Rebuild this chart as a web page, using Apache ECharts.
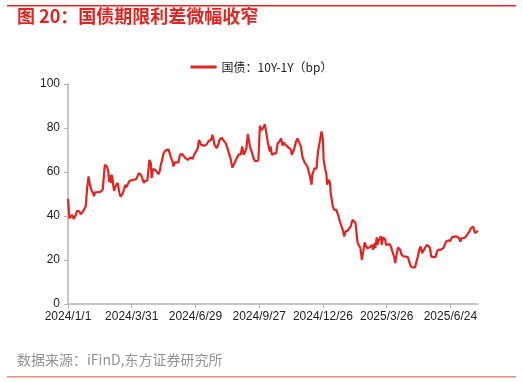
<!DOCTYPE html>
<html>
<head>
<meta charset="utf-8">
<script src="https://cdn.jsdelivr.net/npm/echarts@6/dist/echarts.min.js"></script>
<style>html,body{margin:0;padding:0;background:#fff}#c{width:523px;height:382px}</style>
</head>
<body>
<div id="c"></div>
<script>
// days since 2024-01-01
const dayIndex = [0,2,4,6,8,11,13,16,18,21,23,25,27,29,31,33,35,37,38,41,46,49,52,55,57,58,59,61,62,64,65,67,70,72,73,74,77,79,81,82,84,87,89,92,96,98,100,103,105,107,109,112,114,115,117,118,120,123,125,128,130,131,133,135,137,139,142,144,145,148,149,151,153,156,158,161,163,165,169,171,173,176,178,180,183,185,188,190,192,195,197,199,202,204,205,207,210,212,214,217,219,221,223,225,228,230,232,235,237,239,241,244,246,248,250,252,254,255,257,259,262,264,268,269,271,273,276,278,280,282,283,285,286,288,291,294,296,299,301,303,305,307,312,315,316,319,322,324,327,329,331,334,336,338,341,343,344,345,348,350,351,353,356,358,360,361,363,365,366,368,370,371,374,376,379,382,384,386,388,390,392,395,397,399,402,404,406,409,411,413,415,417,419,422,424,426,429,431,433,434,436,437,439,442,443,445,448,449,451,454,456,458,461,462,464,466,469,471,474,477,480,482,484,487,490,491,494,496,498,500,502,504,507,509,511,513,516,519,521,524,527,530,532,534,537,540,542,546,549,552,554,556,558,560,563,565,567,569,572,574,575,577,579];
const spread = [47.8,39,38.3,40.5,38.7,40.5,42.4,42,40.8,42,41.8,44.3,52.6,58,54,52,52,48.9,50.8,50.8,51,52,63.2,62.5,60,55.4,58.7,55,58.7,58.7,51.4,53.4,55,55,50,48.9,50,52,54.2,53,53.4,56,56.7,56.4,56.7,58,59.5,58.7,57.2,55,56,56.1,56.3,65.5,64,57.2,61.3,61,60.5,59,61,63.2,65.5,68.5,69.6,70,70.3,69.6,67,64.4,62.5,64.4,64,64.4,67.8,68.2,67.8,66.6,65.5,64.8,66.6,66,67.8,68.5,70.5,74.6,72.3,73,72,72.3,73,74.1,74.6,76.9,77.2,72.3,70.8,72.3,74.6,75.6,74.6,75.3,73,72.3,67.8,65.5,62,64,65.5,66.3,68,68,71.6,67.8,69,71,77.2,76.9,71.6,69.6,66.3,65,65,66.3,81,79,80.2,81.7,82.1,73.8,72.3,69.3,71.6,67.8,68.5,68.5,73,74.1,75.3,72,73.4,72.3,71,70,67.8,70,73.8,75.3,73,71.6,67,64.4,63.5,62.5,59,59.5,54.2,58.7,61.7,61,61.5,69.3,74.6,78.4,74.6,65.5,61.7,58.7,54.2,56.5,55,50.4,44.3,42.8,42.8,39.8,37.5,36.8,33.7,30.7,33,33.3,33.7,35.2,38.3,37.5,36.8,27.7,27.7,25.4,20.1,23.9,28,25.4,26.2,25.7,26.9,24.7,27.7,25.4,30.3,26.9,29.2,30.7,26.9,30.3,29.2,26.9,27.7,27.2,26.2,23.9,20.9,18.6,22.4,25.7,24.7,22.4,21.6,21.6,21.2,20.9,17.1,16.6,16.6,17.9,21.6,24.7,26.2,23.1,23.9,25.4,26.9,26.9,25.7,21.6,21.3,21.3,23.9,24.7,24.7,25.4,26.9,28.4,28.9,28.7,30.3,30.7,30.6,30,28.4,30,29.2,30,31.2,31.8,33,34.5,35.2,34.8,32.2,33,33.3];
const xTickStep = 90;
const yTicks = [0,20,40,60,80,100];
const seriesName = '国债：10Y-1Y（bp）';

const base = Date.UTC(2024,0,1);
function fmt(d){const t=new Date(base+d*86400000);return t.getUTCFullYear()+'/'+(t.getUTCMonth()+1)+'/'+t.getUTCDate();}
const points = dayIndex.map((d,i)=>[d,spread[i]]);

const chart = echarts.init(document.getElementById('c'));
chart.setOption({
  animation:false,
  backgroundColor:'#fff',
  textStyle:{fontFamily:'"Liberation Sans", Arial, sans-serif'},
  graphic:[
    {type:'rect',shape:{x:7,y:5,width:509,height:1.5},style:{fill:'#e8231f'}},
    {type:'text',left:17,top:7,style:{text:'图 20：国债期限利差微幅收窄',fill:'#e3231f',font:'bold 18px "Noto Sans CJK SC", sans-serif'}},
    {type:'text',left:17,top:353,style:{text:'数据来源：iFinD,东方证券研究所',fill:'#939393',font:'14px "Noto Sans CJK SC", sans-serif'}},
    {type:'rect',shape:{x:7,y:376,width:509,height:1.5},style:{fill:'#f08a7e'}}
  ],
  legend:{top:56,left:'center',itemWidth:26,itemHeight:3,icon:'rect',
    textStyle:{fontSize:12,color:'#222',fontFamily:'"Noto Sans CJK SC", sans-serif'},
    data:[seriesName]},
  grid:{left:68,right:45,top:84,bottom:78},
  xAxis:{type:'value',min:0,max:579,interval:xTickStep,
    axisLine:{lineStyle:{color:'#b4b4b4',width:1.5}},
    axisTick:{length:4,lineStyle:{color:'#b4b4b4'}},
    splitLine:{show:false},
    axisLabel:{formatter:v=>fmt(v),showMaxLabel:false,color:'#222',fontSize:12,margin:7}},
  yAxis:{type:'value',min:yTicks[0],max:yTicks[yTicks.length-1],interval:20,
    axisLine:{show:true,lineStyle:{color:'#b4b4b4',width:1.5}},
    axisTick:{show:true,length:4,lineStyle:{color:'#b4b4b4'}},
    splitLine:{show:false},
    axisLabel:{color:'#222',fontSize:12,margin:8}},
  series:[{name:seriesName,type:'line',data:points,showSymbol:false,symbol:'none',
    lineStyle:{color:'#e3231f',width:2.2},itemStyle:{color:'#e3231f'}}]
});
</script>
</body>
</html>
